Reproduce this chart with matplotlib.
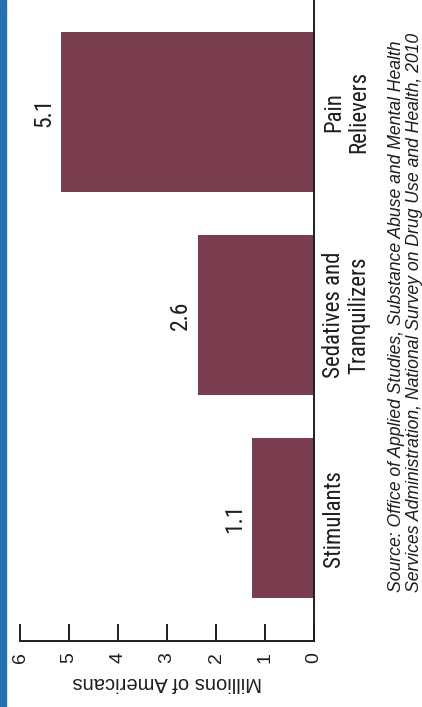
import matplotlib
matplotlib.use('Agg')
from matplotlib import pyplot as plt
from matplotlib import font_manager
from matplotlib.patches import Rectangle

# the scanned chart is turned on its side, so bars run right-to-left
cats = ['Stimulants', 'Sedatives and\nTranquilizers', 'Pain\nRelievers']
barLen = [1.27, 2.37, 5.17]      # bar lengths as drawn against the 0-6 scale
valTxt = ['1.1', '2.6', '5.1']   # printed value labels
ticks = [0, 1, 2, 3, 4, 5, 6]
source = ('Source: Office of Applied Studies, Substance Abuse and Mental Health\n'
          'Services Administration, National Survey on Drug Use and Health, 2010')

names = {f.name for f in font_manager.fontManager.ttflist}
narrow = next((n for n in ['Roboto Condensed', 'Archivo Narrow', 'PT Sans Narrow',
                           'Liberation Sans'] if n in names), 'DejaVu Sans')
regular = 'Liberation Sans' if 'Liberation Sans' in names else 'DejaVu Sans'

barColor = '#7b3e50'
ink = '#1e1e1e'

fig = plt.figure(figsize=(4.22, 7.07), dpi=100)
fig.patch.set_facecolor('white')
ax = fig.add_axes([20 / 422, 1 - 641 / 707, 294 / 422, 641 / 707])

pos = list(range(len(cats)))
ax.barh(pos, barLen, height=0.787, color=barColor, edgecolor='none')
ax.set_xlim(6, 0)
ax.set_ylim(-0.603, 2.551)

for s in ['top', 'left']:
    ax.spines[s].set_visible(False)
for s in ['right', 'bottom']:
    ax.spines[s].set_linewidth(1.4)
    ax.spines[s].set_color(ink)

ax.set_yticks([])
ax.set_xticks(ticks)
ax.set_xticklabels([str(t) for t in ticks])
ax.tick_params(axis='x', direction='in', length=12, width=1.4, color=ink,
               labelrotation=90, pad=8, labelsize=14, labelcolor=ink)
for lbl in ax.get_xticklabels():
    lbl.set_family(regular)
ax.set_xlabel('Millions of Americans', rotation=180, fontsize=14.5,
              family=regular, color=ink, labelpad=7)

for i, (v, t) in enumerate(zip(barLen, valTxt)):
    ax.annotate(t, xy=(v, i), xytext=(-4, 0), textcoords='offset points',
                ha='right', va='center', rotation=90, fontsize=17,
                family=narrow, color=ink)

for i, c in enumerate(cats):
    ax.annotate(c, xy=(0, i), xytext=(6, 0), textcoords='offset points',
                ha='left', va='center', rotation=90, fontsize=16.5,
                family=narrow, color=ink, multialignment='center',
                linespacing=1.1, annotation_clip=False)

fig.text(388 / 422, 1 - 592 / 707, source, rotation=90, ha='left', va='bottom',
         style='italic', fontsize=12.7, family=regular, color=ink, linespacing=1.1)

# blue border strip on the left edge of the scan
fig.add_artist(Rectangle((0, 0), 6 / 422, 1, transform=fig.transFigure,
                         color='#2470b2', zorder=5))

fig.savefig('out.png', dpi=100)
